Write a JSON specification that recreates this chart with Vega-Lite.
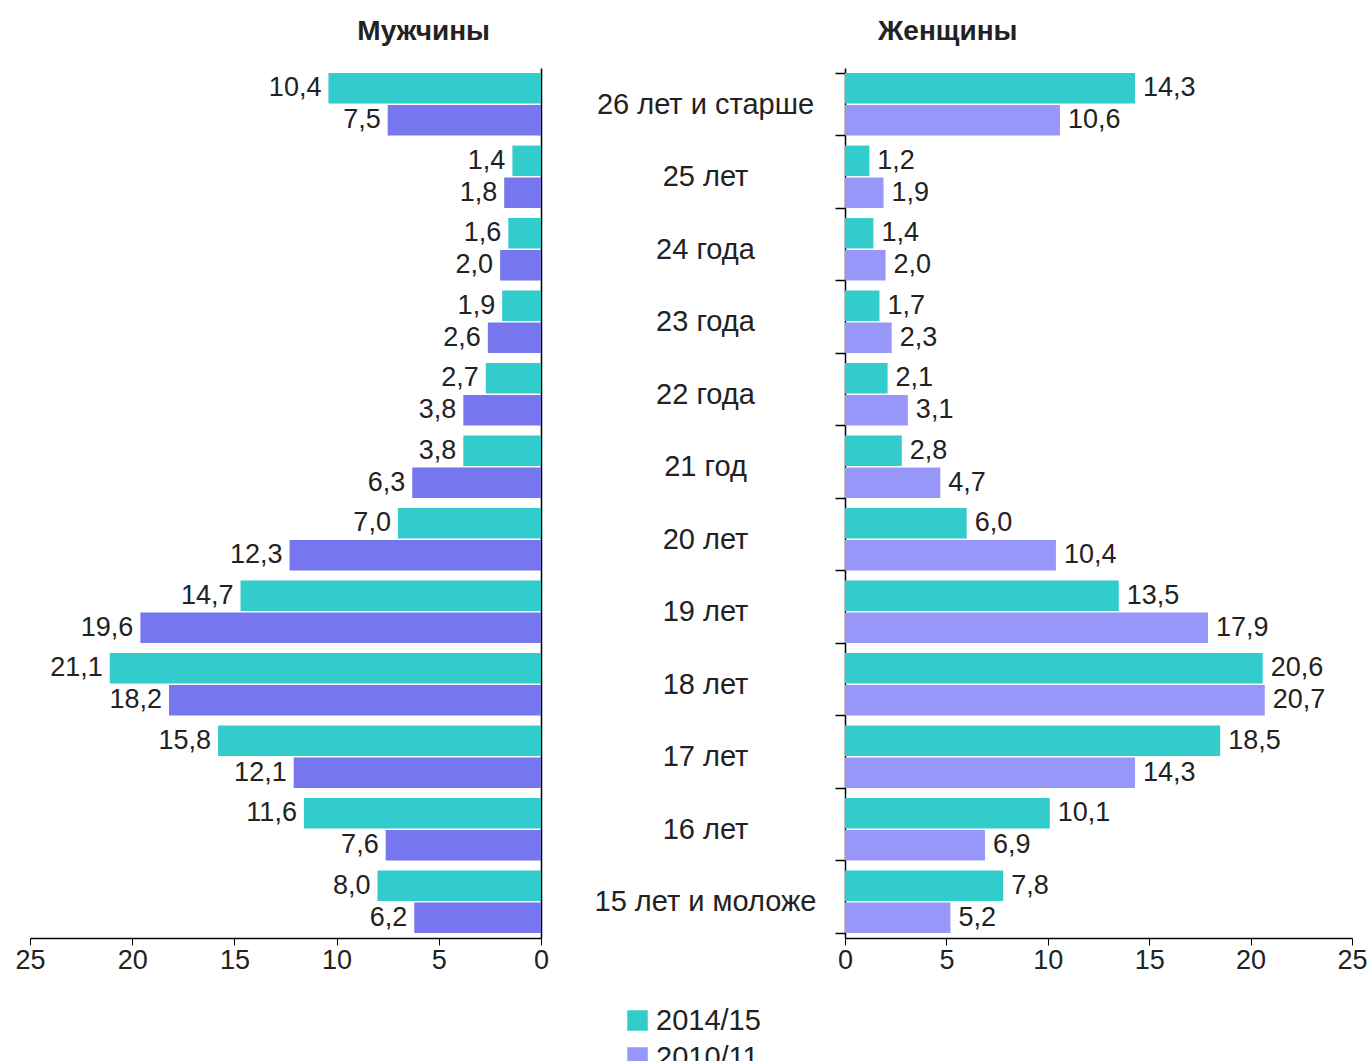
{
  "$schema": "https://vega.github.io/schema/vega-lite/v6.json",
  "background": "white",
  "padding": {"left": 14, "top": 18, "right": 5, "bottom": 5},
  "bounds": "flush",
  "spacing": 304,
  "config": {
    "font": "Liberation Sans",
    "view": {"stroke": null},
    "axis": {"grid": false, "domainColor": "#000000", "tickColor": "#000000", "labelColor": "#222222", "labelFontSize": 27, "labelFont": "Liberation Sans"}
  },
  "datasets": {
    "men": [
      {"age": "26 лет и старше", "series": "2014/15", "value": 10.4, "label": "10,4"},
      {"age": "26 лет и старше", "series": "2010/11", "value": 7.5, "label": "7,5"},
      {"age": "25 лет", "series": "2014/15", "value": 1.4, "label": "1,4"},
      {"age": "25 лет", "series": "2010/11", "value": 1.8, "label": "1,8"},
      {"age": "24 года", "series": "2014/15", "value": 1.6, "label": "1,6"},
      {"age": "24 года", "series": "2010/11", "value": 2.0, "label": "2,0"},
      {"age": "23 года", "series": "2014/15", "value": 1.9, "label": "1,9"},
      {"age": "23 года", "series": "2010/11", "value": 2.6, "label": "2,6"},
      {"age": "22 года", "series": "2014/15", "value": 2.7, "label": "2,7"},
      {"age": "22 года", "series": "2010/11", "value": 3.8, "label": "3,8"},
      {"age": "21 год", "series": "2014/15", "value": 3.8, "label": "3,8"},
      {"age": "21 год", "series": "2010/11", "value": 6.3, "label": "6,3"},
      {"age": "20 лет", "series": "2014/15", "value": 7.0, "label": "7,0"},
      {"age": "20 лет", "series": "2010/11", "value": 12.3, "label": "12,3"},
      {"age": "19 лет", "series": "2014/15", "value": 14.7, "label": "14,7"},
      {"age": "19 лет", "series": "2010/11", "value": 19.6, "label": "19,6"},
      {"age": "18 лет", "series": "2014/15", "value": 21.1, "label": "21,1"},
      {"age": "18 лет", "series": "2010/11", "value": 18.2, "label": "18,2"},
      {"age": "17 лет", "series": "2014/15", "value": 15.8, "label": "15,8"},
      {"age": "17 лет", "series": "2010/11", "value": 12.1, "label": "12,1"},
      {"age": "16 лет", "series": "2014/15", "value": 11.6, "label": "11,6"},
      {"age": "16 лет", "series": "2010/11", "value": 7.6, "label": "7,6"},
      {"age": "15 лет и моложе", "series": "2014/15", "value": 8.0, "label": "8,0"},
      {"age": "15 лет и моложе", "series": "2010/11", "value": 6.2, "label": "6,2"}
    ],
    "women": [
      {"age": "26 лет и старше", "series": "2014/15", "value": 14.3, "label": "14,3"},
      {"age": "26 лет и старше", "series": "2010/11", "value": 10.6, "label": "10,6"},
      {"age": "25 лет", "series": "2014/15", "value": 1.2, "label": "1,2"},
      {"age": "25 лет", "series": "2010/11", "value": 1.9, "label": "1,9"},
      {"age": "24 года", "series": "2014/15", "value": 1.4, "label": "1,4"},
      {"age": "24 года", "series": "2010/11", "value": 2.0, "label": "2,0"},
      {"age": "23 года", "series": "2014/15", "value": 1.7, "label": "1,7"},
      {"age": "23 года", "series": "2010/11", "value": 2.3, "label": "2,3"},
      {"age": "22 года", "series": "2014/15", "value": 2.1, "label": "2,1"},
      {"age": "22 года", "series": "2010/11", "value": 3.1, "label": "3,1"},
      {"age": "21 год", "series": "2014/15", "value": 2.8, "label": "2,8"},
      {"age": "21 год", "series": "2010/11", "value": 4.7, "label": "4,7"},
      {"age": "20 лет", "series": "2014/15", "value": 6.0, "label": "6,0"},
      {"age": "20 лет", "series": "2010/11", "value": 10.4, "label": "10,4"},
      {"age": "19 лет", "series": "2014/15", "value": 13.5, "label": "13,5"},
      {"age": "19 лет", "series": "2010/11", "value": 17.9, "label": "17,9"},
      {"age": "18 лет", "series": "2014/15", "value": 20.6, "label": "20,6"},
      {"age": "18 лет", "series": "2010/11", "value": 20.7, "label": "20,7"},
      {"age": "17 лет", "series": "2014/15", "value": 18.5, "label": "18,5"},
      {"age": "17 лет", "series": "2010/11", "value": 14.3, "label": "14,3"},
      {"age": "16 лет", "series": "2014/15", "value": 10.1, "label": "10,1"},
      {"age": "16 лет", "series": "2010/11", "value": 6.9, "label": "6,9"},
      {"age": "15 лет и моложе", "series": "2014/15", "value": 7.8, "label": "7,8"},
      {"age": "15 лет и моложе", "series": "2010/11", "value": 5.2, "label": "5,2"}
    ]
  },
  "resolve": {"scale": {"color": "independent"}},
  "hconcat": [
    {
      "width": 511,
      "height": 870,
      "data": {"name": "men"},
      "title": {"text": "Мужчины", "anchor": "end", "frame": "group", "dx": -51, "offset": 22, "fontSize": 28, "fontWeight": "bold", "color": "#222222", "font": "Liberation Sans"},
      "encoding": {
        "y": {"field": "age", "type": "nominal", "sort": null, "scale": {"paddingInner": 0.14, "paddingOuter": 0.07},
              "axis": {"orient": "right", "title": null, "labels": false, "ticks": false, "domainWidth": 1.5}},
        "yOffset": {"field": "series", "type": "nominal", "sort": ["2014/15", "2010/11"], "scale": {"paddingInner": 0.05}},
        "x": {"field": "value", "type": "quantitative", "scale": {"domain": [0, 25], "reverse": true, "nice": false},
              "axis": {"title": null, "values": [0, 5, 10, 15, 20, 25], "tickSize": 7, "labelPadding": 2, "domainWidth": 1.5, "labelFlush": false}}
      },
      "layer": [
        {"mark": {"type": "bar"},
         "encoding": {"color": {"field": "series", "type": "nominal", "sort": ["2014/15", "2010/11"],
                                "scale": {"domain": ["2014/15", "2010/11"], "range": ["#33CCCC", "#7676EE"]}, "legend": null}}},
        {"mark": {"type": "text", "align": "right", "baseline": "middle", "dx": -7, "fontSize": 27, "color": "#222222"},
         "encoding": {"text": {"field": "label"}}}
      ]
    },
    {
      "width": 507,
      "height": 870,
      "data": {"name": "women"},
      "title": {"text": "Женщины", "anchor": "start", "frame": "group", "dx": 33, "offset": 8, "fontSize": 28, "fontWeight": "bold", "color": "#222222", "font": "Liberation Sans"},
      "encoding": {
        "y": {"field": "age", "type": "nominal", "sort": null, "scale": {"paddingInner": 0.14, "paddingOuter": 0.07},
              "axis": {"orient": "left", "title": null, "tickBand": "extent", "tickSize": 10, "tickWidth": 1.5, "domainWidth": 1.5, "labelAlign": "center", "labelPadding": 130, "labelFontSize": 29, "labelLimit": 400}},
        "yOffset": {"field": "series", "type": "nominal", "sort": ["2014/15", "2010/11"], "scale": {"paddingInner": 0.05}},
        "x": {"field": "value", "type": "quantitative", "scale": {"domain": [0, 25], "nice": false},
              "axis": {"title": null, "values": [0, 5, 10, 15, 20, 25], "tickSize": 7, "labelPadding": 2, "domainWidth": 1.5, "labelFlush": false}}
      },
      "layer": [
        {"mark": {"type": "bar"},
         "encoding": {"color": {"field": "series", "type": "nominal", "sort": ["2014/15", "2010/11"],
                                "scale": {"domain": ["2014/15", "2010/11"], "range": ["#33CCCC", "#9797FA"]},
                                "legend": {"title": null, "orient": "none", "legendX": -222, "legendY": 938, "symbolType": "square", "symbolSize": 420, "symbolStrokeWidth": 0, "labelFontSize": 29, "labelColor": "#222222", "labelLimit": 300, "rowPadding": 7, "labelOffset": 4}}}},
        {"mark": {"type": "text", "align": "left", "baseline": "middle", "dx": 8, "fontSize": 27, "color": "#222222"},
         "encoding": {"text": {"field": "label"}}}
      ]
    }
  ]
}
